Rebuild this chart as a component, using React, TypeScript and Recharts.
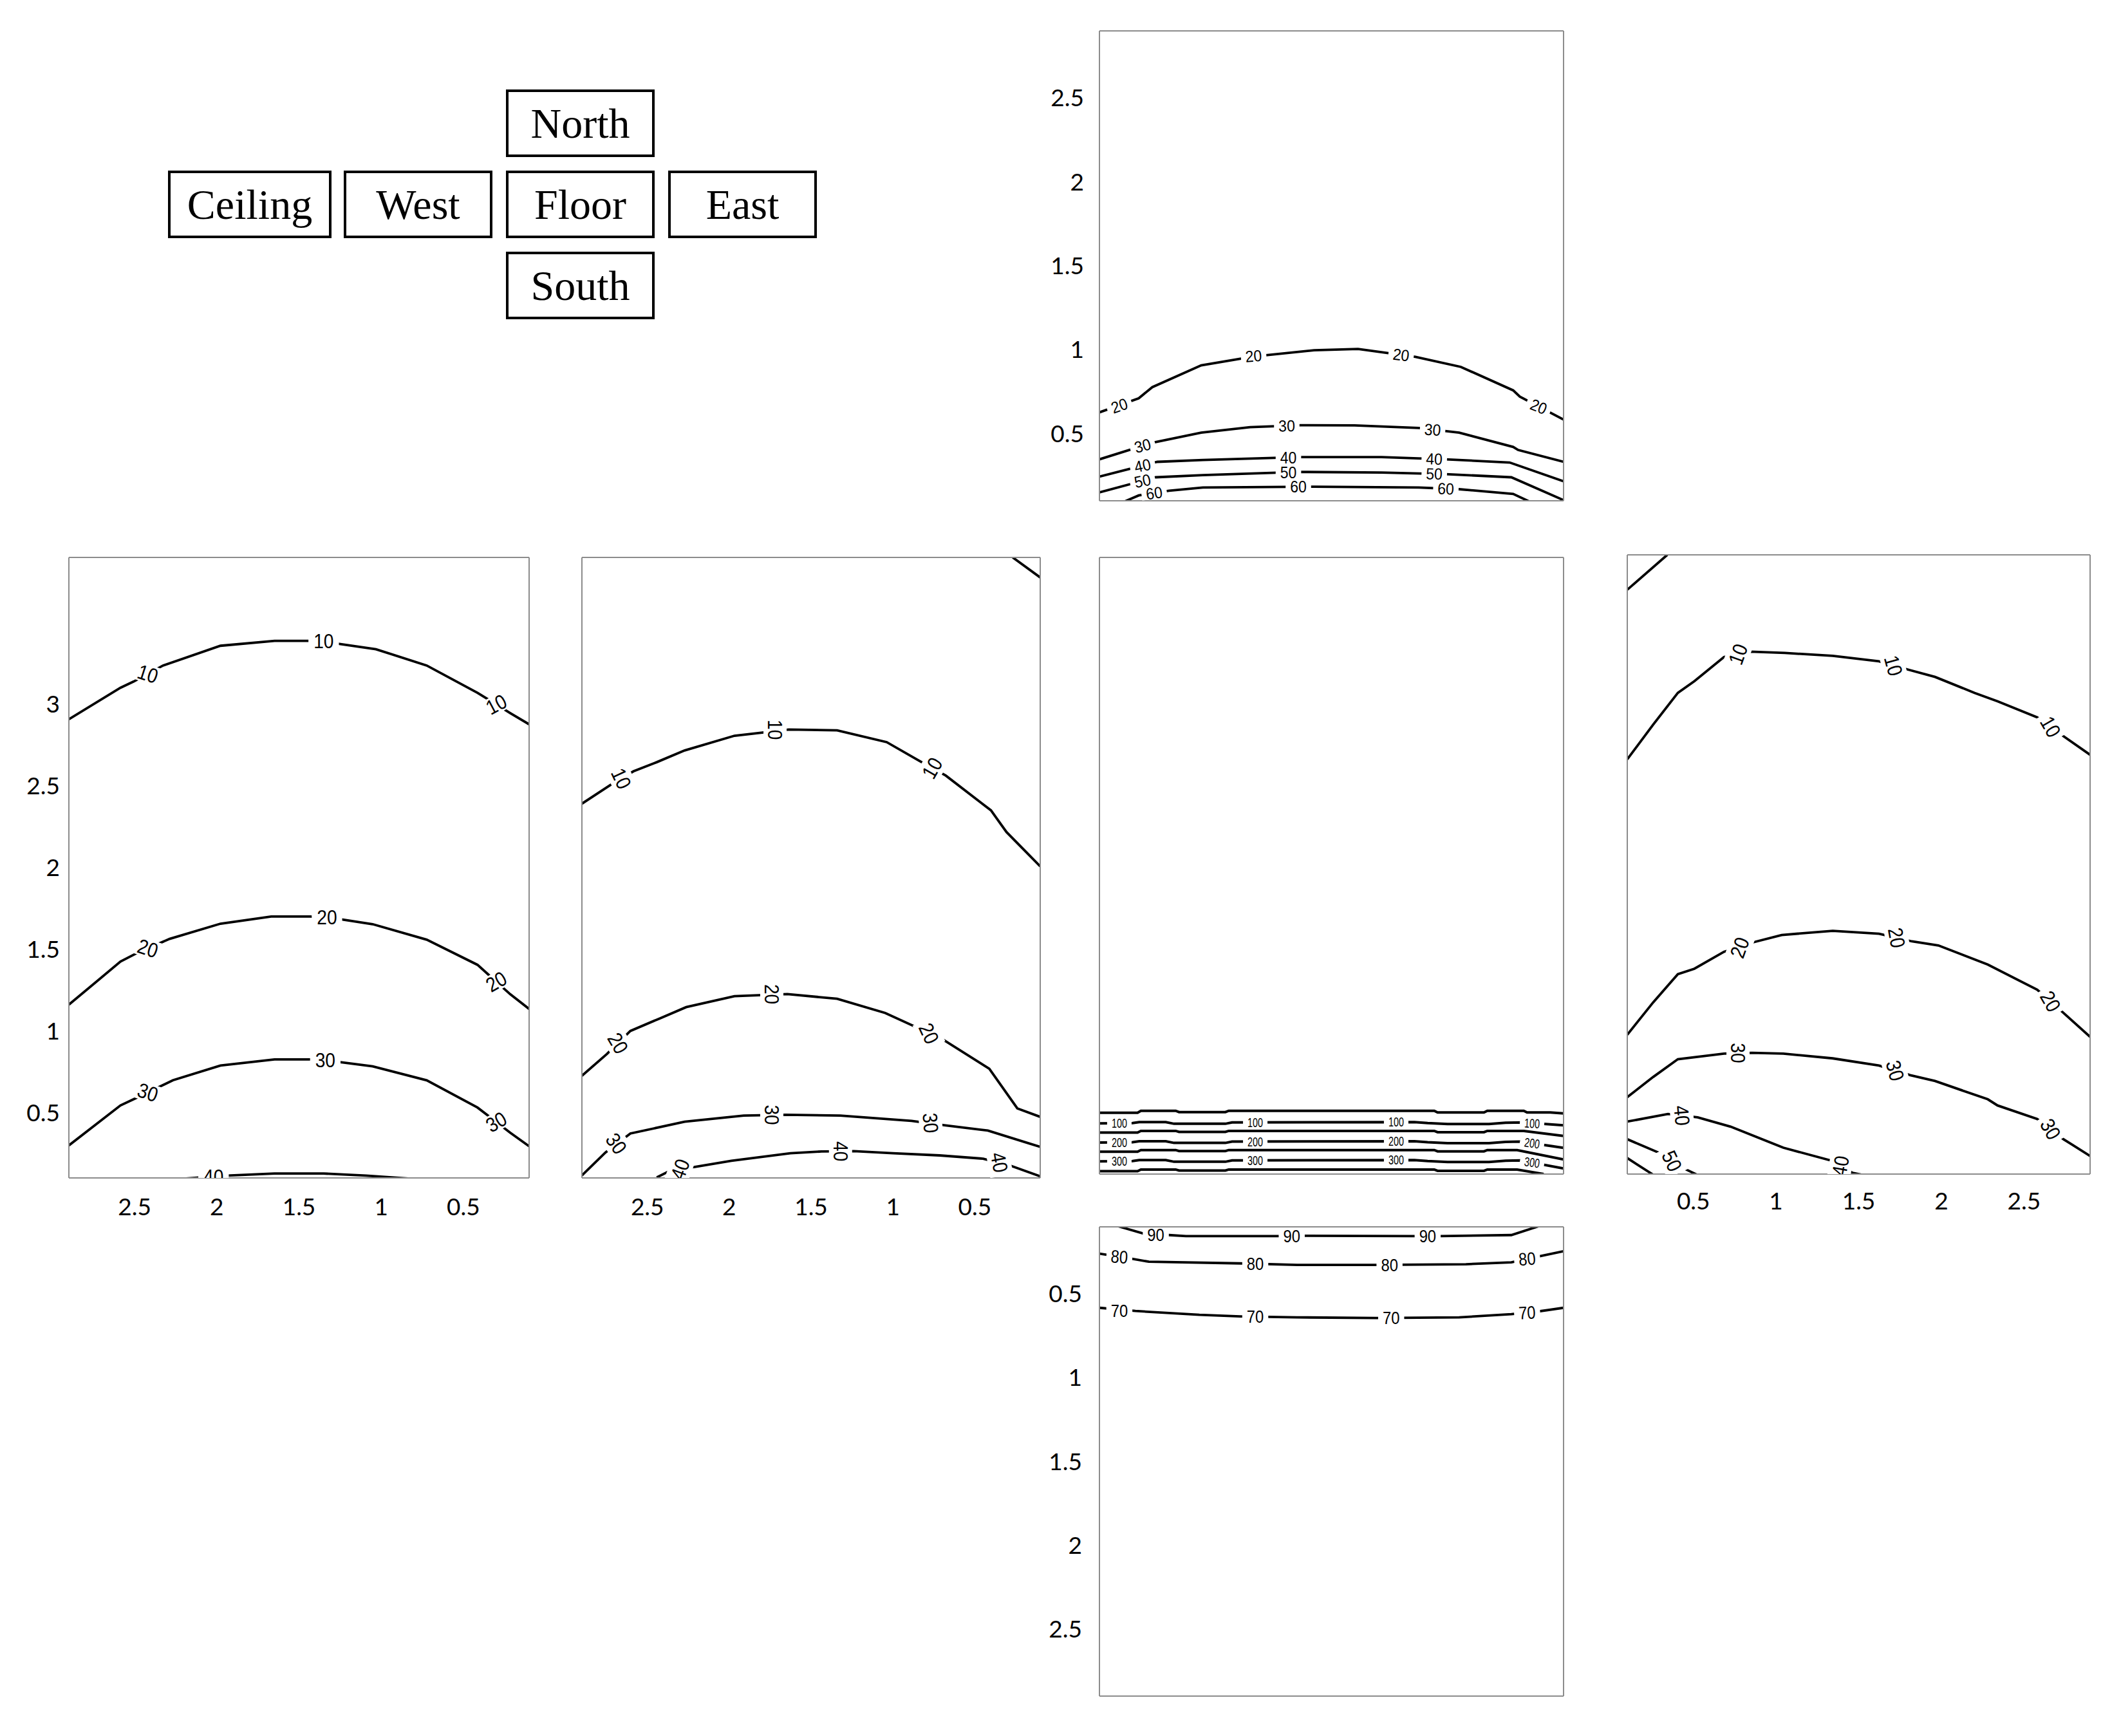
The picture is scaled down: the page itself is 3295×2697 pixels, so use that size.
import React from 'react';
import { ComposedChart, Line, Scatter, XAxis, YAxis } from 'recharts';

type Pt = [number, number];
type Lbl = [number, number, string];

// ---- axis ticks (metres) ----
const ticksShort = [0.5, 1, 1.5, 2, 2.5];
const ticksLong = [0.5, 1, 1.5, 2, 2.5, 3, 3.5];
const domShort: [number, number] = [0.1, 2.9];
const domLong: [number, number] = [0.1, 3.9];

// ---- face names for the unfolded-room key ----
const faceNames = ['North', 'Ceiling', 'West', 'Floor', 'East', 'South'];

// ---- North wall contours ----
const north20: Pt[] = [[0.1, 0.627], [0.337, 0.711], [0.419, 0.777], [0.714, 0.907], [1.029, 0.96], [1.395, 0.997], [1.66, 1.005], [2.006, 0.958], [2.28, 0.898], [2.596, 0.758], [2.636, 0.721], [2.9, 0.584]];
const north30: Pt[] = [[0.1, 0.347], [0.419, 0.446], [0.714, 0.506], [1.009, 0.539], [1.314, 0.55], [1.639, 0.549], [2.026, 0.534], [2.27, 0.506], [2.596, 0.421], [2.626, 0.403], [2.9, 0.332]];
const north40: Pt[] = [[0.1, 0.244], [0.449, 0.332], [0.724, 0.343], [1.314, 0.36], [1.802, 0.36], [2.189, 0.347], [2.575, 0.328], [2.9, 0.216]];
const north50: Pt[] = [[0.1, 0.15], [0.439, 0.24], [0.724, 0.253], [1.314, 0.272], [1.802, 0.268], [2.189, 0.259], [2.585, 0.24], [2.9, 0.104]];
const north60: Pt[] = [[0.236, 0.089], [0.337, 0.132], [0.52, 0.16], [0.724, 0.179], [1.395, 0.184], [2.026, 0.179], [2.27, 0.169], [2.596, 0.141], [2.708, 0.089]];
const northLabels: Lbl[] = [
  [0.22, 0.667, '20'], [1.03, 0.963, '20'], [1.92, 0.97, '20'], [2.75, 0.662, '20'],
  [0.36, 0.428, '30'], [1.23, 0.547, '30'], [2.11, 0.524, '30'],
  [0.36, 0.31, '40'], [1.24, 0.358, '40'], [2.12, 0.35, '40'],
  [0.36, 0.219, '50'], [1.24, 0.27, '50'], [2.12, 0.261, '50'],
  [0.43, 0.146, '60'], [1.3, 0.183, '60'], [2.19, 0.172, '60'],
];
const northAngles = [-19, -4, 7, 22, -15, -1, 4, -12, 0, 2, -12, 0, 2, -8, 0, 2];

// ---- Ceiling contours ----
const ceil10: Pt[] = [[2.9, 2.909], [2.586, 3.102], [2.506, 3.14], [2.327, 3.238], [1.978, 3.359], [1.649, 3.389], [1.43, 3.389], [1.261, 3.371], [1.032, 3.338], [0.723, 3.238], [0.414, 3.071], [0.215, 2.947], [0.1, 2.878]];
const ceil20: Pt[] = [[2.9, 1.161], [2.586, 1.425], [2.486, 1.477], [2.287, 1.564], [1.978, 1.657], [1.669, 1.701], [1.43, 1.701], [1.241, 1.683], [1.052, 1.654], [0.723, 1.559], [0.414, 1.405], [0.215, 1.225], [0.1, 1.135]];
const ceil30: Pt[] = [[2.9, 0.299], [2.586, 0.544], [2.496, 0.587], [2.267, 0.698], [1.978, 0.788], [1.649, 0.826], [1.43, 0.826], [1.241, 0.808], [1.052, 0.783], [0.723, 0.698], [0.414, 0.531], [0.215, 0.377], [0.1, 0.294]];
const ceil40: Pt[] = [[2.227, 0.094], [2.108, 0.102], [1.938, 0.114], [1.649, 0.127], [1.351, 0.127], [1.092, 0.114], [0.793, 0.094]];
const ceilLabels: Lbl[] = [
  [2.42, 3.187, '10'], [1.35, 3.389, '10'], [0.3, 3.0, '10'],
  [2.42, 1.506, '20'], [1.33, 1.698, '20'], [0.3, 1.302, '20'],
  [2.42, 0.624, '30'], [1.34, 0.823, '30'], [0.3, 0.443, '30'],
  [2.02, 0.108, '40'],
];
const ceilAngles = [18, 0, -28, 18, 0, -30, 18, 0, -30, 0];

// ---- West wall contours ----
const westCorner: Pt[] = [[0.268, 3.9], [0.1, 3.777]];
const west10: Pt[] = [[2.9, 2.392], [2.728, 2.505], [2.585, 2.59], [2.443, 2.646], [2.272, 2.718], [1.968, 2.808], [1.636, 2.846], [1.341, 2.841], [1.038, 2.769], [0.838, 2.654], [0.677, 2.564], [0.401, 2.351], [0.306, 2.218], [0.1, 2.008]];
const west20: Pt[] = [[2.9, 0.726], [2.747, 0.859], [2.604, 1.0], [2.424, 1.077], [2.263, 1.146], [1.968, 1.213], [1.645, 1.226], [1.341, 1.197], [1.047, 1.11], [0.696, 0.949], [0.411, 0.769], [0.24, 0.526], [0.1, 0.474]];
const west30: Pt[] = [[2.9, 0.115], [2.756, 0.256], [2.604, 0.372], [2.272, 0.444], [1.911, 0.482], [1.655, 0.487], [1.322, 0.482], [0.886, 0.449], [0.686, 0.423], [0.42, 0.39], [0.1, 0.29]];
const west40: Pt[] = [[2.443, 0.103], [2.377, 0.136], [2.215, 0.167], [1.987, 0.205], [1.626, 0.251], [1.436, 0.262], [1.237, 0.264], [0.999, 0.251], [0.715, 0.238], [0.449, 0.218], [0.278, 0.174], [0.1, 0.11]];
const westLabels: Lbl[] = [
  [2.66, 2.546, '10'], [1.72, 2.845, '10'], [0.76, 2.61, '10'],
  [2.68, 0.925, '20'], [1.74, 1.225, '20'], [0.78, 0.985, '20'],
  [2.69, 0.31, '30'], [1.74, 0.486, '30'], [0.77, 0.437, '30'],
  [2.3, 0.152, '40'], [1.32, 0.263, '40'], [0.35, 0.195, '40'],
];
const westAngles = [65, 90, -60, 60, 90, 65, 55, 90, 85, -70, 90, 80];

// ---- Floor contours ----
const floor50: Pt[] = [[0.1, 0.478], [0.33, 0.478], [0.35, 0.49], [0.56, 0.49], [0.58, 0.482], [0.86, 0.482], [0.88, 0.49], [2.12, 0.49], [2.14, 0.48], [2.42, 0.48], [2.44, 0.49], [2.66, 0.49], [2.68, 0.48], [2.82, 0.48], [2.9, 0.474]];
const floor100: Pt[] = [[0.1, 0.412], [0.3, 0.414], [0.34, 0.42], [0.5, 0.42], [0.55, 0.41], [0.86, 0.41], [0.9, 0.418], [2.0, 0.42], [2.08, 0.414], [2.2, 0.408], [2.45, 0.408], [2.55, 0.416], [2.66, 0.418], [2.9, 0.4]];
const floor150: Pt[] = [[0.1, 0.356], [0.33, 0.356], [0.35, 0.366], [0.56, 0.366], [0.58, 0.36], [0.86, 0.36], [0.88, 0.366], [2.12, 0.366], [2.14, 0.358], [2.42, 0.358], [2.44, 0.366], [2.66, 0.366], [2.9, 0.335]];
const floor200: Pt[] = [[0.1, 0.294], [0.3, 0.296], [0.34, 0.302], [0.5, 0.302], [0.55, 0.292], [0.86, 0.292], [0.9, 0.3], [2.0, 0.302], [2.08, 0.296], [2.2, 0.29], [2.45, 0.29], [2.55, 0.298], [2.64, 0.3], [2.9, 0.262]];
const floor250: Pt[] = [[0.1, 0.238], [0.33, 0.238], [0.35, 0.248], [0.56, 0.248], [0.58, 0.242], [0.86, 0.242], [0.88, 0.248], [2.12, 0.248], [2.14, 0.24], [2.42, 0.24], [2.44, 0.248], [2.62, 0.248], [2.9, 0.19]];
const floor300: Pt[] = [[0.1, 0.178], [0.3, 0.18], [0.34, 0.186], [0.5, 0.186], [0.55, 0.176], [0.86, 0.176], [0.9, 0.184], [2.0, 0.186], [2.08, 0.18], [2.2, 0.174], [2.45, 0.174], [2.55, 0.182], [2.64, 0.184], [2.9, 0.135]];
const floor350: Pt[] = [[0.1, 0.118], [0.33, 0.118], [0.35, 0.128], [0.56, 0.128], [0.58, 0.122], [0.86, 0.122], [0.88, 0.128], [2.12, 0.128], [2.14, 0.12], [2.42, 0.12], [2.44, 0.128], [2.62, 0.128], [2.78, 0.1]];
const floorLabels: Lbl[] = [
  [0.22, 0.413, '100'], [1.04, 0.415, '100'], [1.89, 0.42, '100'], [2.71, 0.412, '100'],
  [0.22, 0.295, '200'], [1.04, 0.297, '200'], [1.89, 0.302, '200'], [2.71, 0.29, '200'],
  [0.22, 0.179, '300'], [1.04, 0.181, '300'], [1.89, 0.186, '300'], [2.71, 0.171, '300'],
];
const floorAngles = [0, 0, 0, 3, 0, 0, 0, 8, 0, 0, 0, 8];

// ---- East wall contours ----
const eastCorner: Pt[] = [[0.1, 3.686], [0.342, 3.9]];
const east10: Pt[] = [[0.1, 2.645], [0.257, 2.859], [0.406, 3.053], [0.506, 3.125], [0.685, 3.273], [0.845, 3.306], [1.054, 3.298], [1.343, 3.28], [1.623, 3.247], [1.802, 3.195], [1.962, 3.151], [2.201, 3.053], [2.34, 3.001], [2.58, 2.903], [2.739, 2.787], [2.9, 2.673]];
const east20: Pt[] = [[0.1, 0.955], [0.257, 1.154], [0.406, 1.327], [0.506, 1.36], [0.685, 1.464], [0.865, 1.523], [1.034, 1.567], [1.343, 1.593], [1.623, 1.575], [1.822, 1.528], [1.982, 1.503], [2.281, 1.386], [2.58, 1.231], [2.739, 1.089], [2.9, 0.942]];
const east30: Pt[] = [[0.1, 0.572], [0.257, 0.696], [0.406, 0.805], [0.685, 0.839], [0.855, 0.844], [1.044, 0.839], [1.343, 0.81], [1.623, 0.766], [1.812, 0.707], [1.962, 0.671], [2.281, 0.559], [2.34, 0.521], [2.58, 0.438], [2.739, 0.314], [2.9, 0.211]];
const east40: Pt[] = [[0.1, 0.422], [0.346, 0.469], [0.526, 0.448], [0.725, 0.391], [1.044, 0.262], [1.343, 0.18], [1.463, 0.107], [1.553, 0.089]];
const east50: Pt[] = [[0.1, 0.314], [0.307, 0.224], [0.446, 0.133], [0.536, 0.089]];
const east60: Pt[] = [[0.1, 0.198], [0.267, 0.089]];
const eastLabels: Lbl[] = [
  [0.77, 3.29, '10'], [1.71, 3.22, '10'], [2.66, 2.845, '10'],
  [0.78, 1.49, '20'], [1.73, 1.55, '20'], [2.66, 1.16, '20'],
  [0.77, 0.843, '30'], [1.72, 0.735, '30'], [2.66, 0.376, '30'],
  [0.43, 0.459, '40'], [1.39, 0.15, '40'],
  [0.37, 0.18, '50'],
];
const eastAngles = [-70, 75, 60, -70, 80, 60, 90, 75, 60, 85, -80, 65];

// ---- South wall contours ----
const south90: Pt[] = [[0.215, 0.097], [0.368, 0.141], [0.52, 0.149], [0.622, 0.155], [1.171, 0.155], [1.334, 0.153], [1.985, 0.155], [2.158, 0.155], [2.585, 0.149], [2.748, 0.097]];
const south80: Pt[] = [[0.1, 0.26], [0.286, 0.289], [0.398, 0.308], [0.948, 0.318], [1.293, 0.327], [1.772, 0.327], [2.311, 0.323], [2.585, 0.312], [2.738, 0.279], [2.9, 0.245]];
const south70: Pt[] = [[0.1, 0.583], [0.317, 0.602], [0.703, 0.625], [0.948, 0.634], [1.293, 0.64], [1.772, 0.644], [2.27, 0.64], [2.585, 0.621], [2.738, 0.606], [2.9, 0.583]];
const southLabels: Lbl[] = [
  [0.44, 0.147, '90'], [1.26, 0.155, '90'], [2.08, 0.155, '90'],
  [0.22, 0.279, '80'], [1.04, 0.321, '80'], [1.85, 0.327, '80'], [2.68, 0.291, '80'],
  [0.22, 0.6, '70'], [1.04, 0.636, '70'], [1.86, 0.644, '70'], [2.68, 0.612, '70'],
];
const southAngles = [0, 0, 0, 4, 0, 0, -5, 0, 0, 0, -3];

const FRAME = '#8c8c8c';
const PAD = 6;
const YW = 110;
const XH = 80;
const tickFont = { fontSize: 37, fill: '#000', fontFamily: 'Lato, "Open Sans", sans-serif' };

const toRows = (pts: Pt[]) => pts.map(([x, y]) => ({ x, y }));

const makeLabelShape = (fs: number, sq: number, padX: number, boxH: number) => (props: any) => {
  const { cx, cy, payload } = props;
  if (cx == null || cy == null || !payload) return <g />;
  const t = String(payload.t);
  const tw = t.length * fs * 0.556 * sq;
  return (
    <g transform={`translate(${cx},${cy}) rotate(${payload.a})`}>
      <rect x={-tw / 2 - padX} y={-boxH / 2} width={tw + 2 * padX} height={boxH} fill="#fff" />
      <text
        transform={`scale(${sq},1)`}
        textAnchor="middle"
        dominantBaseline="central"
        fontSize={fs}
        fontFamily="'Liberation Sans', Arial, sans-serif"
        fill="#000"
      >
        {t}
      </text>
    </g>
  );
};

interface PanelProps {
  left: number;
  top: number;
  w: number;
  h: number;
  xDomain: [number, number];
  yDomain: [number, number];
  xTicks: number[];
  yTicks: number[];
  xRev?: boolean;
  yRev?: boolean;
  xLabels?: boolean;
  yLabels?: boolean;
  xGap?: number;
  yGap?: number;
  skipYLabel?: number;
  contours: Pt[][];
  labels: Lbl[];
  angles: number[];
  fontSize: number;
  squeeze: number;
  padX: number;
  boxH: number;
  lineW?: number;
}

const Panel: React.FC<PanelProps> = (p) => {
  const lw = p.yLabels ? YW : 0;
  const bh = p.xLabels ? XH : 0;
  const cw = p.w + 2 * PAD + lw;
  const ch = p.h + 2 * PAD + bh;
  const labelRows = p.labels.map(([x, y, t], i) => ({ x, y, t, a: p.angles[i] ?? 0 }));
  const shape = makeLabelShape(p.fontSize, p.squeeze, p.padX, p.boxH);
  const frameAxis = { type: 'number' as const, allowDataOverflow: true, tick: false, tickSize: 9, stroke: FRAME, strokeWidth: 2 };

  return (
    <div style={{ position: 'absolute', left: p.left - PAD - lw, top: p.top - PAD }}>
      <ComposedChart width={cw} height={ch} margin={{ top: PAD, right: PAD, bottom: PAD, left: PAD }}>
        <XAxis xAxisId="b" dataKey="x" domain={p.xDomain} ticks={p.xTicks} reversed={p.xRev} orientation="bottom" mirror height={1} {...frameAxis} />
        <XAxis xAxisId="t" dataKey="x" domain={p.xDomain} ticks={p.xTicks} reversed={p.xRev} orientation="top" mirror height={1} {...frameAxis} />
        {p.xLabels && (
          <XAxis
            xAxisId="lab"
            type="number"
            dataKey="x"
            domain={p.xDomain}
            ticks={p.xTicks}
            reversed={p.xRev}
            allowDataOverflow
            orientation="bottom"
            height={XH}
            axisLine={false}
            tickLine={false}
            tickSize={0}
            tickMargin={p.xGap ?? 32}
            tick={tickFont}
          />
        )}
        <YAxis yAxisId="l" domain={p.yDomain} ticks={p.yTicks} reversed={p.yRev} orientation="left" mirror width={1} {...frameAxis} />
        <YAxis yAxisId="r" domain={p.yDomain} ticks={p.yTicks} reversed={p.yRev} orientation="right" mirror width={1} {...frameAxis} />
        {p.yLabels && (
          <YAxis
            yAxisId="lab"
            type="number"
            domain={p.yDomain}
            ticks={p.yTicks}
            reversed={p.yRev}
            allowDataOverflow
            orientation="left"
            width={YW}
            axisLine={false}
            tickLine={false}
            tickSize={0}
            tickMargin={p.yGap ?? 16}
            tick={tickFont}
            tickFormatter={(v: number) => (v === p.skipYLabel ? '' : String(v))}
          />
        )}
        {p.contours.map((c, i) => (
          <Line
            key={i}
            xAxisId="b"
            yAxisId="l"
            data={toRows(c)}
            dataKey="y"
            type="linear"
            stroke="#000"
            strokeWidth={p.lineW ?? 3.8}
            dot={false}
            activeDot={false}
            isAnimationActive={false}
          />
        ))}
        <Scatter xAxisId="b" yAxisId="l" data={labelRows} dataKey="y" shape={shape} isAnimationActive={false} />
      </ComposedChart>
    </div>
  );
};

const keyBoxes = [
  { left: 786, top: 139 },
  { left: 261, top: 265 },
  { left: 534, top: 265 },
  { left: 786, top: 265 },
  { left: 1038, top: 265 },
  { left: 786, top: 391 },
];
const keyW = [231, 254, 231, 231, 231, 231];

export default function App() {
  return (
    <div style={{ position: 'absolute', left: 0, top: 0, width: 3295, height: 2697, background: '#fff', overflow: 'hidden' }}>
      {faceNames.map((name, i) => (
        <div
          key={name}
          style={{
            position: 'absolute',
            left: keyBoxes[i].left,
            top: keyBoxes[i].top,
            width: keyW[i],
            height: 105,
            boxSizing: 'border-box',
            border: '4px solid #000',
            display: 'flex',
            alignItems: 'center',
            justifyContent: 'center',
            fontFamily: "'Liberation Serif', 'Times New Roman', serif",
            fontSize: 66,
            color: '#000',
            lineHeight: 1,
          }}
        >
          {name}
        </div>
      ))}

      {/* North */}
      <Panel
        left={1708} top={48} w={721} h={730}
        xDomain={domShort} yDomain={domShort} xTicks={ticksShort} yTicks={ticksShort}
        yLabels yGap={24}
        contours={[north20, north30, north40, north50, north60]}
        labels={northLabels} angles={northAngles}
        fontSize={25} squeeze={0.92} padX={7} boxH={18}
      />
      {/* Ceiling */}
      <Panel
        left={107} top={866} w={715} h={964}
        xDomain={domShort} yDomain={domLong} xTicks={ticksShort} yTicks={ticksLong}
        xRev xLabels yLabels yGap={14} skipYLabel={3.5}
        contours={[ceil10, ceil20, ceil30, ceil40]}
        labels={ceilLabels} angles={ceilAngles}
        fontSize={32} squeeze={0.88} padX={8} boxH={28}
      />
      {/* West */}
      <Panel
        left={904} top={866} w={712} h={964}
        xDomain={domShort} yDomain={domLong} xTicks={ticksShort} yTicks={ticksLong}
        xRev xLabels
        contours={[westCorner, west10, west20, west30, west40]}
        labels={westLabels} angles={westAngles}
        fontSize={32} squeeze={0.88} padX={6} boxH={36}
      />
      {/* Floor */}
      <Panel
        left={1708} top={866} w={721} h={958}
        xDomain={domShort} yDomain={domLong} xTicks={ticksShort} yTicks={ticksLong}
        contours={[floor50, floor100, floor150, floor200, floor250, floor300, floor350]}
        labels={floorLabels} angles={floorAngles}
        fontSize={20} squeeze={0.72} padX={7} boxH={10} lineW={4}
      />
      {/* East */}
      <Panel
        left={2528} top={862} w={719} h={962}
        xDomain={domShort} yDomain={domLong} xTicks={ticksShort} yTicks={ticksLong}
        xLabels xGap={29}
        contours={[eastCorner, east10, east20, east30, east40, east50, east60]}
        labels={eastLabels} angles={eastAngles}
        fontSize={32} squeeze={0.88} padX={6} boxH={36}
      />
      {/* South */}
      <Panel
        left={1708} top={1906} w={721} h={729}
        xDomain={domShort} yDomain={domShort} xTicks={ticksShort} yTicks={ticksShort}
        yRev yLabels yGap={27}
        contours={[south90, south80, south70]}
        labels={southLabels} angles={southAngles}
        fontSize={28} squeeze={0.85} padX={7} boxH={22}
      />
    </div>
  );
}
